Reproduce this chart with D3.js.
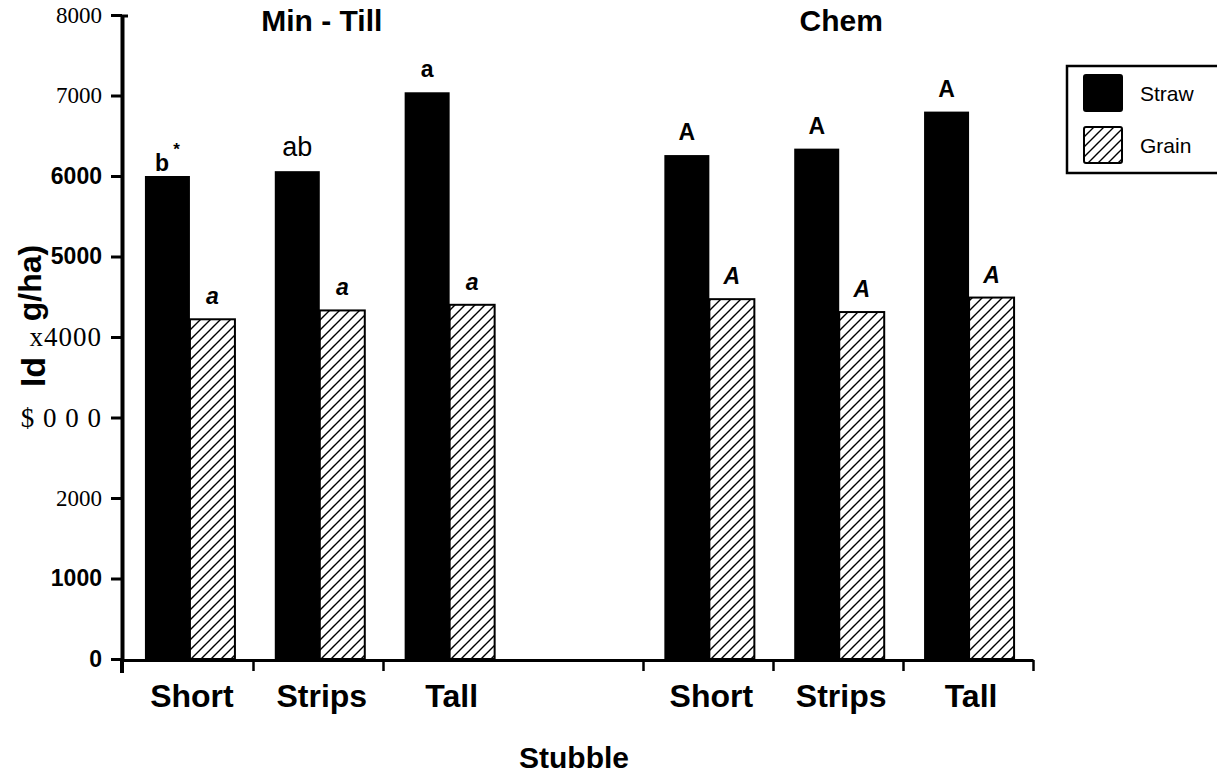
<html>
<head>
  <title></title>
  <script src="https://cdn.jsdelivr.net/npm/d3@7"></script>
<style type="text/css">
body { margin: 0; background: #fff; }
text { fill: #000; }
</style>
</head>
<body>
<script type="text/javascript">
// values
var tillage = ['Min - Till', 'Chem'];
var stubble = ['Short', 'Strips', 'Tall'];
var straw = [6000, 6060, 7040, 6260, 6340, 6800];
var grain = [4220, 4330, 4400, 4470, 4310, 4490];
var strawLetters = ['b*', 'ab', 'a', 'A', 'A', 'A'];
var grainLetters = ['a', 'a', 'a', 'A', 'A', 'A'];
var yTickValues = [0, 1000, 2000, 3000, 4000, 5000, 6000, 7000, 8000];
var yTickLabels = ['0', '1000', '2000', '$ 0 0 0', 'x4000', '5000', '6000', '7000', '8000'];
var seriesNames = ['Straw', 'Grain'];

var w = 1217, h = 775;
var sans = 'Liberation Sans, Arial, sans-serif';
var serif = 'Liberation Serif, Times New Roman, serif';

var svg = d3.select('body').append('svg')
  .attr('width', w)
  .attr('height', h);

var defs = svg.append('defs');
var pat = defs.append('pattern')
  .attr('id', 'hatch')
  .attr('patternUnits', 'userSpaceOnUse')
  .attr('width', 10)
  .attr('height', 10);
pat.append('rect').attr('width', 10).attr('height', 10).attr('fill', '#fff');
pat.append('path')
  .attr('d', 'M-2,2 L2,-2 M0,10 L10,0 M8,12 L12,8')
  .attr('stroke', '#000')
  .attr('stroke-width', 1.4);

// 7 slots: 3 min-till, one empty, 3 chem
var x = d3.scaleBand().domain(d3.range(7)).range([125, 1034]);
var xLin = d3.scaleLinear().domain([0, 7]).range([123, 1033]);
var inner = d3.scaleBand().domain(seriesNames)
  .range([(x.bandwidth() - 90) / 2, (x.bandwidth() + 90) / 2]);
var y = d3.scaleLinear().domain([0, 8000]).range([659, 15]);

var bars = [];
straw.forEach(function(v, i) {
  var g = Math.floor(i / 3), s = i % 3;
  bars.push({slot: g * 4 + s, series: 'Straw', value: v, letter: strawLetters[i]});
  bars.push({slot: g * 4 + s, series: 'Grain', value: grain[i], letter: grainLetters[i]});
});

// bars
svg.selectAll('rect.bar')
  .data(bars)
  .enter()
  .append('rect')
  .attr('class', 'bar')
  .attr('x', function(d) { return x(d.slot) + inner(d.series); })
  .attr('y', function(d) { return y(d.value); })
  .attr('width', inner.bandwidth())
  .attr('height', function(d) { return y(0) - y(d.value); })
  .attr('fill', function(d) { return d.series == 'Straw' ? '#000' : 'url(#hatch)'; })
  .attr('stroke', '#000')
  .attr('stroke-width', function(d) { return d.series == 'Straw' ? 0 : 2; });

// letters over bars
var lab = svg.selectAll('text.letter')
  .data(bars)
  .enter()
  .append('text')
  .attr('class', 'letter')
  .attr('x', function(d) { return x(d.slot) + inner(d.series) + inner.bandwidth() / 2; })
  .attr('y', function(d) { return y(d.value) - (d.letter == 'b*' ? 5 : 15); })
  .attr('text-anchor', 'middle')
  .style('font-family', sans)
  .style('font-size', function(d) { return d.letter == 'ab' ? '27px' : '23px'; })
  .style('font-weight', function(d) { return d.letter == 'ab' ? 'normal' : 'bold'; })
  .style('font-style', function(d) { return d.series == 'Grain' ? 'italic' : 'normal'; });
lab.append('tspan').text(function(d) { return d.letter.replace('*', ''); });
lab.filter(function(d) { return d.letter.indexOf('*') >= 0; })
  .append('tspan')
  .attr('dx', 4)
  .attr('dy', -16)
  .style('font-size', '17px')
  .text('*');

// y axis
var yAxis = svg.append('g')
  .attr('transform', 'translate(122,0)')
  .call(d3.axisLeft(y).tickValues(yTickValues)
    .tickFormat(function(d, i) { return yTickLabels[i]; })
    .tickSize(11).tickSizeOuter(0).tickPadding(9));
yAxis.select('.domain').attr('stroke-width', 4);
yAxis.selectAll('.tick line').attr('stroke-width', 3);
yAxis.selectAll('.tick text')
  .style('font-family', function(d, i) { return [0, 1, 5, 6].indexOf(i) >= 0 ? sans : serif; })
  .style('font-weight', function(d, i) { return [0, 1, 5, 6].indexOf(i) >= 0 ? 'bold' : 'normal'; })
  .style('font-size', function(d, i) { return [3, 4].indexOf(i) >= 0 ? '27px' : '23px'; })
  .style('letter-spacing', function(d, i) { return [3, 4].indexOf(i) >= 0 ? '1px' : '0px'; })
  .attr('fill', '#000');
svg.append('line')
  .attr('x1', 122).attr('x2', 122)
  .attr('y1', y(0)).attr('y2', 673)
  .attr('stroke', '#000').attr('stroke-width', 4);
svg.append('line')
  .attr('x1', 122).attr('x2', 128)
  .attr('y1', y(8000) + 1).attr('y2', y(8000) + 1)
  .attr('stroke', '#000').attr('stroke-width', 3);

// x axis
var xAxis = svg.append('g')
  .attr('transform', 'translate(0,' + (y(0) + 1) + ')')
  .call(d3.axisBottom(xLin).tickValues([1, 2, 4, 5, 6, 7])
    .tickFormat('').tickSize(11).tickSizeOuter(0));
xAxis.select('.domain').attr('stroke-width', 3);
xAxis.selectAll('.tick line').attr('stroke-width', 2.5);

svg.selectAll('text.stubble')
  .data(d3.range(6))
  .enter()
  .append('text')
  .attr('class', 'stubble')
  .attr('x', function(i) { return x(Math.floor(i / 3) * 4 + i % 3) + x.bandwidth() / 2 + 2; })
  .attr('y', 707)
  .attr('text-anchor', 'middle')
  .style('font-family', sans)
  .style('font-weight', 'bold')
  .style('font-size', '32px')
  .text(function(i) { return stubble[i % 3]; });

svg.append('text')
  .attr('x', 574).attr('y', 768)
  .attr('text-anchor', 'middle')
  .style('font-family', sans).style('font-weight', 'bold').style('font-size', '30px')
  .text('Stubble');

// group titles
svg.selectAll('text.title')
  .data(tillage)
  .enter()
  .append('text')
  .attr('class', 'title')
  .attr('x', function(d, i) { return x(i * 4 + 1) + x.bandwidth() / 2 + 2; })
  .attr('y', 31)
  .attr('text-anchor', 'middle')
  .style('font-family', sans).style('font-weight', 'bold').style('font-size', '30px')
  .text(function(d) { return d; });

// what is left of the y title
svg.append('text')
  .attr('transform', 'translate(45,372) rotate(-90)')
  .attr('text-anchor', 'middle')
  .style('font-family', sans).style('font-weight', 'bold').style('font-size', '34px')
  .text('ld');
svg.append('text')
  .attr('transform', 'translate(41,283) rotate(-90)')
  .attr('text-anchor', 'middle')
  .style('font-family', sans).style('font-weight', 'bold').style('font-size', '32px')
  .text('g/ha)');

// legend
svg.append('rect')
  .attr('x', 1067).attr('y', 66)
  .attr('width', 160).attr('height', 107)
  .attr('fill', 'none').attr('stroke', '#000').attr('stroke-width', 2.5);
var leg = svg.selectAll('g.leg')
  .data(seriesNames)
  .enter()
  .append('g')
  .attr('class', 'leg')
  .attr('transform', function(d, i) { return 'translate(1084,' + (75 + i * 52) + ')'; });
leg.append('rect')
  .attr('width', 38).attr('height', 36)
  .attr('rx', 2)
  .attr('fill', function(d) { return d == 'Straw' ? '#000' : 'url(#hatch)'; })
  .attr('stroke', '#000').attr('stroke-width', 2);
leg.append('text')
  .attr('x', 56).attr('y', 26)
  .style('font-family', sans).style('font-size', '21px')
  .text(function(d) { return d; });
</script>
</body>
</html>
